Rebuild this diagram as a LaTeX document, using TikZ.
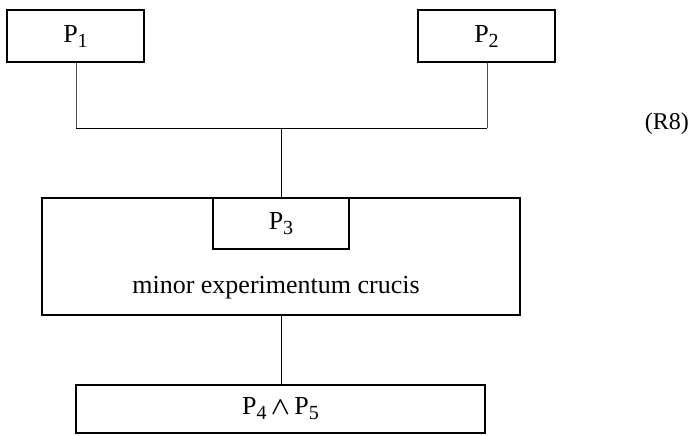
\documentclass[tikz,border=0pt]{standalone}
\usepackage{fontspec}
\setmainfont{Liberation Serif}
\newcommand{\sbs}[1]{\raisebox{-5pt}{\fontsize{20}{20}\selectfont #1}}
\begin{document}
\begin{tikzpicture}[x=1pt,y=-1pt,
  box/.style={draw,line width=1.1pt,rectangle,inner sep=0pt,font=\fontsize{26}{30}\selectfont},
  thinline/.style={line width=0.5pt,black!70},
  link/.style={line width=1pt}]
\useasboundingbox (0,0) rectangle (691,436);
\node[box,minimum width=137pt,minimum height=52pt] (p1) at (75.5,36) {P\sbs{1}};
\node[box,minimum width=137pt,minimum height=52pt] (p2) at (486.5,36) {P\sbs{2}};
\node[box,minimum width=478pt,minimum height=117pt] (big) at (281,256.5) {};
\node[box,minimum width=136pt,minimum height=51pt,anchor=north] (p3) at (big.north) {P\sbs{3}};
\node[font=\fontsize{26}{30}\selectfont,inner sep=0pt] (mec) at (276,288) {minor experimentum crucis};
\node[box,minimum width=409pt,minimum height=48pt] (p45) at (280.5,409) {P\sbs{4}\,{\fontsize{30}{30}\selectfont\boldmath$\wedge$}\,P\sbs{5}};
\node[font=\fontsize{24}{28}\selectfont,inner sep=0pt,anchor=east] (r8) at (689,124) {(R8)};
\coordinate (hl) at (76,128);
\coordinate (hr) at (487,128);
\coordinate (j) at (281,128);
\draw[thinline] (p1.south -| hl) -- (hl);
\draw[thinline] (p2.south -| hr) -- (hr);
\draw[link] (hl) -- (hr);
\draw[link] (j) -- (big.north);
\draw[link] (big.south) -- (big.south |- p45.north);
\end{tikzpicture}
\end{document}
